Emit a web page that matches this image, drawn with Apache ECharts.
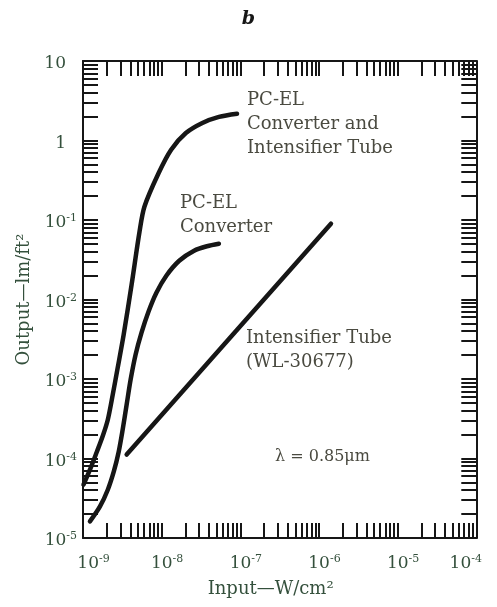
<!DOCTYPE html>
<html>
<head>
<meta charset="utf-8">
<script src="https://cdn.jsdelivr.net/npm/echarts@6/dist/echarts.min.js"></script>
<style>
  html, body { margin: 0; padding: 0; background: #ffffff; }
  #chart { width: 497px; height: 607px; }
</style>
</head>
<body>
<div id="chart"></div>
<script>
// Light output (lm/ft²) against input irradiance (W/cm²), log–log.

// Axis decades (exponents of ten)
const xDecades = [-9, -8, -7, -6, -5, -4];
const yDecades = [-5, -4, -3, -2, -1, 0, 1];

// PC-EL converter followed by an image intensifier tube
const converterWithTube = [
  [1.015e-9, 4.68e-5],
  [1.226e-9, 7.23e-5],
  [1.501e-9, 1.218e-4],
  [1.787e-9, 1.935e-4],
  [2.067e-9, 3.08e-4],
  [2.389e-9, 6.35e-4],
  [2.763e-9, 1.387e-3],
  [3.289e-9, 3.61e-3],
  [4.148e-9, 1.535e-2],
  [5.232e-9, 7.12e-2],
  [6.05e-9, 1.48e-1],
  [9.16e-9, 3.9e-1],
  [1.32e-8, 7.66e-1],
  [2.03e-8, 1.24],
  [3.29e-8, 1.66],
  [5.35e-8, 1.98],
  [9.08e-8, 2.17]
];

// PC-EL converter alone
const converterOnly = [
  [1.226e-9, 1.618e-5],
  [1.638e-9, 2.475e-5],
  [2.067e-9, 4.05e-5],
  [2.460e-9, 6.82e-5],
  [2.844e-9, 1.218e-4],
  [3.194e-9, 2.303e-4],
  [3.588e-9, 4.75e-4],
  [4.030e-9, 9.80e-4],
  [4.659e-9, 2.021e-3],
  [5.546e-9, 3.823e-3],
  [6.796e-9, 7.02e-3],
  [8.574e-9, 1.218e-2],
  [1.146e-8, 1.993e-2],
  [1.672e-8, 3.076e-2],
  [2.585e-8, 4.11e-2],
  [3.770e-8, 4.68e-2],
  [5.340e-8, 5.03e-2]
];

// Intensifier tube WL-30677 alone
const intensifierTube = [
  [3.59e-9, 1.12e-4],
  [1.42e-6, 8.97e-2]
];

// Tick marks at 1..9 × 10^k inside every decade
function logTicks(decades) {
  const out = [];
  for (let i = 0; i < decades.length - 1; i++) {
    for (let m = 1; m <= 9; m++) out.push(m * Math.pow(10, decades[i]));
  }
  out.push(Math.pow(10, decades[decades.length - 1]));
  return out;
}
const xTicks = logTicks(xDecades);
const yTicks = logTicks(yDecades);

const serif = '"DejaVu Serif", "Liberation Serif", serif';
const labelGreen = '#34503c';
const noteInk = '#4a4a40';
const ink = '#161616';

const exp = v => Math.round(Math.log10(v));

const richLabels = {
  b: { fontFamily: serif, fontSize: 17, color: labelGreen, lineHeight: 20 },
  s: { fontFamily: serif, fontSize: 11, color: labelGreen, verticalAlign: 'top', lineHeight: 12 },
  pad: { width: 11, fontSize: 11 },
  padWide: { width: 21, fontSize: 11 }
};

function xLabel(v) {
  const e = exp(v);
  const sup = '{s|-' + Math.abs(e) + '}';
  if (e === xDecades[0]) return '{padWide|\u00a0}{b|10}' + sup;
  if (e === xDecades[xDecades.length - 1]) return '{b|10}' + sup + '{padWide|\u00a0}';
  return '{pad|\u00a0}{b|10}' + sup;
}
function yLabel(v) {
  const e = exp(v);
  if (e === 1) return '{b|10}{pad|\u00a0}';
  if (e === 0) return '{b|1}{pad|\u00a0}';
  return '{b|10}{s|-' + Math.abs(e) + '}';
}

const frameLine = { show: true, onZero: false, lineStyle: { color: ink, width: 2 } };
function tickStyle(values) {
  return { show: true, inside: true, length: 15, customValues: values, lineStyle: { color: ink, width: 2 } };
}

const xMin = Math.pow(10, xDecades[0]);
const xMax = Math.pow(10, xDecades[xDecades.length - 1]);
const yMin = Math.pow(10, yDecades[0]);
const yMax = Math.pow(10, yDecades[yDecades.length - 1]);

const chart = echarts.init(document.getElementById('chart'), null, { renderer: 'canvas' });

const curveStyle = { color: ink, width: 4.5, cap: 'round', join: 'round' };

chart.setOption({
  backgroundColor: '#ffffff',
  animation: false,
  grid: { left: 83, right: 17, top: 61, bottom: 69, containLabel: false },
  xAxis: [
    {
      type: 'log', logBase: 10, min: xMin, max: xMax, position: 'bottom',
      axisLine: frameLine, axisTick: tickStyle(xTicks), splitLine: { show: false },
      axisLabel: { margin: 16, formatter: xLabel, rich: richLabels, customValues: xDecades.map(e => Math.pow(10, e)) },
      name: 'Input\u2014W/cm\u00b2', nameLocation: 'middle', nameGap: 42,
      nameTextStyle: { fontFamily: serif, fontSize: 18, color: labelGreen, padding: [0, 18, 0, 0] }
    },
    {
      type: 'log', logBase: 10, min: xMin, max: xMax, position: 'top',
      axisLine: frameLine, axisTick: tickStyle(xTicks), axisLabel: { show: false }, splitLine: { show: false }
    }
  ],
  yAxis: [
    {
      type: 'log', logBase: 10, min: yMin, max: yMax, position: 'left',
      axisLine: frameLine, axisTick: tickStyle(yTicks), splitLine: { show: false },
      axisLabel: { margin: 6, padding: [6, 0, 0, 0], formatter: yLabel, rich: richLabels,
                   customValues: yDecades.map(e => Math.pow(10, e)) },
      name: 'Output\u2014lm/ft\u00b2', nameLocation: 'middle', nameGap: 50, nameRotate: 90,
      nameTextStyle: { fontFamily: serif, fontSize: 18, color: labelGreen }
    },
    {
      type: 'log', logBase: 10, min: yMin, max: yMax, position: 'right',
      axisLine: frameLine, axisTick: tickStyle(yTicks), axisLabel: { show: false }, splitLine: { show: false }
    }
  ],
  series: [
    { name: 'PC-EL Converter and Intensifier Tube', type: 'line', data: converterWithTube,
      smooth: 0.3, showSymbol: false, lineStyle: curveStyle },
    { name: 'PC-EL Converter', type: 'line', data: converterOnly,
      smooth: 0.3, showSymbol: false, lineStyle: curveStyle },
    { name: 'Intensifier Tube (WL-30677)', type: 'line', data: intensifierTube,
      showSymbol: false, lineStyle: curveStyle }
  ],
  graphic: [
    { type: 'text', left: 'center', top: 10,
      style: { text: 'b', font: 'italic bold 19px ' + serif, fill: ink } },
    { type: 'text', left: 247, top: 88,
      style: { text: 'PC-EL\nConverter and\nIntensifier Tube', font: '18px ' + serif, lineHeight: 24, fill: noteInk } },
    { type: 'text', left: 180, top: 191,
      style: { text: 'PC-EL\nConverter', font: '18px ' + serif, lineHeight: 24, fill: noteInk } },
    { type: 'text', left: 246, top: 326,
      style: { text: 'Intensifier Tube\n(WL-30677)', font: '18px ' + serif, lineHeight: 24, fill: noteInk } },
    { type: 'text', left: 275, top: 449,
      style: { text: '\u03bb = 0.85\u03bcm', font: '16px ' + serif, fill: noteInk } }
  ]
});
</script>
</body>
</html>
